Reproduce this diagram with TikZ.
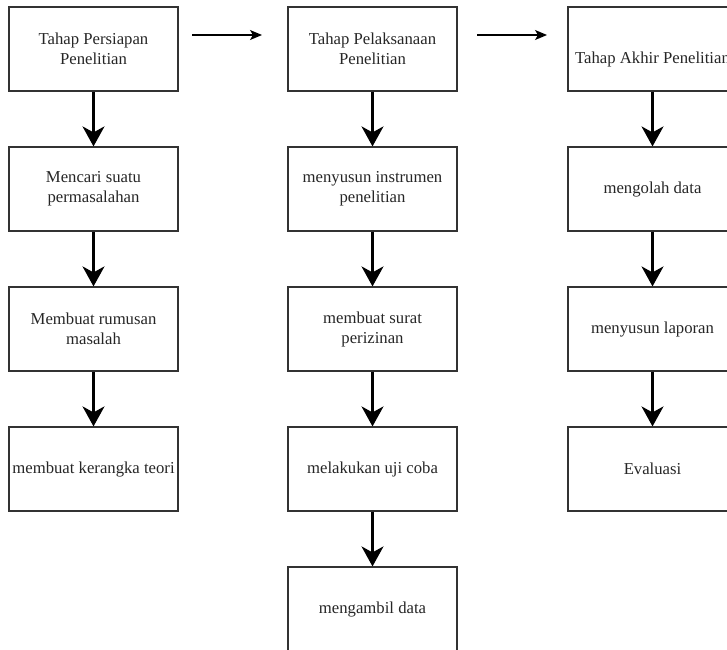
\documentclass[tikz,border=0pt]{standalone}
\usepackage{fontspec}
\setmainfont{Liberation Serif}
\usetikzlibrary{arrows.meta}
\begin{document}
\begin{tikzpicture}[x=1pt,y=-1pt,
  stepbox/.style={draw=black!80, line width=1.2pt, minimum width=169pt, minimum height=84pt,
    inner sep=0pt, align=center, text=black!85,
    font=\fontsize{16.7pt}{20pt}\selectfont},
  flow/.style={line width=2.2pt, -{Stealth[length=20pt,width=22pt,inset=6pt]}},
  thin/.style={line width=1.2pt, -{Stealth[length=12pt,width=10pt,inset=3pt]}}]
\useasboundingbox (0,0) rectangle (727,649);
% column 1
\node[stepbox] (a1) at (93.5,49) {Tahap Persiapan\\Penelitian};
\node[stepbox] (a2) at (93.5,189) {Mencari suatu\\permasalahan};
\node[stepbox] (a3) at (93.5,329) {Membuat rumusan\\masalah};
\node[stepbox] (a4) at (93.5,469) {membuat kerangka teori};
% column 2
\node[stepbox] (b1) at (372.5,49) {Tahap Pelaksanaan\\Penelitian};
\node[stepbox] (b2) at (372.5,189) {menyusun instrumen\\penelitian};
\node[stepbox] (b3) at (372.5,329) {membuat surat\\perizinan};
\node[stepbox] (b4) at (372.5,469) {melakukan uji coba};
\node[stepbox] (b5) at (372.5,609) {mengambil data};
% column 3
\node[stepbox, text height=32pt, text depth=4pt] (c1) at (652.5,49) {Tahap Akhir Penelitian};
\node[stepbox] (c2) at (652.5,189) {mengolah data};
\node[stepbox] (c3) at (652.5,329) {menyusun laporan};
\node[stepbox] (c4) at (652.5,469) {Evaluasi};
% vertical connectors
\draw[flow] (a1.south) -- (a2.north);
\draw[flow] (a2.south) -- (a3.north);
\draw[flow] (a3.south) -- (a4.north);
\draw[flow] (b1.south) -- (b2.north);
\draw[flow] (b2.south) -- (b3.north);
\draw[flow] (b3.south) -- (b4.north);
\draw[flow] (b4.south) -- (b5.north);
\draw[flow] (c1.south) -- (c2.north);
\draw[flow] (c2.south) -- (c3.north);
\draw[flow] (c3.south) -- (c4.north);
% horizontal arrows
\coordinate (h1s) at (192,35);
\coordinate (h1e) at (262,35);
\coordinate (h2s) at (477,35);
\coordinate (h2e) at (547,35);
\draw[thin] (h1s) -- (h1e);
\draw[thin] (h2s) -- (h2e);
\end{tikzpicture}
\end{document}
